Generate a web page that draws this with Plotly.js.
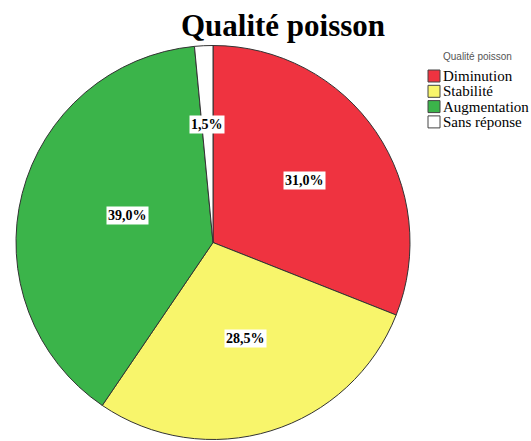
<!DOCTYPE html>
<html><head><meta charset="utf-8">
<script src="https://cdn.plot.ly/plotly-3.0.1.min.js"></script>
<style>body{margin:0;padding:0;background:#fff;overflow:hidden}#chart{width:531px;height:441px}</style>
</head><body><div id="chart"></div>
<script>
const categories = ["Diminution", "Stabilité", "Augmentation", "Sans réponse"];
const values = [31.0, 28.5, 39.0, 1.5];
const labelsText = ["31,0%", "28,5%", "39,0%", "1,5%"];
const colors = ["#EF3340", "#F8F56B", "#3BB44A", "#FFFFFF"];
const chartTitle = "Qualité poisson";
const legendTitle = "Qualité poisson";

const W = 531, H = 441;
const dom = {x0: 16, x1: 410, y0: 45, y1: 440};
const cx = (dom.x0 + dom.x1) / 2, cy = (dom.y0 + dom.y1) / 2;
const R = Math.min(dom.x1 - dom.x0, dom.y1 - dom.y0) / 2;
const total = values.reduce((a, b) => a + b, 0);

const annotations = [];
const shapes = [];
let cum = 0;
values.forEach((v, i) => {
  const mid = (cum + v / 2) / total * 2 * Math.PI;
  cum += v;
  const rf = v / total < 0.05 ? 0.65 : 0.56;
  const px = cx + Math.sin(mid) * R * rf;
  const py = cy - Math.cos(mid) * R * rf;
  annotations.push({
    x: px / W, y: 1 - py / H, xref: "paper", yref: "paper",
    text: "<b>" + labelsText[i] + "</b>", showarrow: false,
    font: {family: "Liberation Serif", size: 14, color: "#000"},
    bgcolor: "#FFFFFF", borderpad: 1
  });
});

// legend (drawn manually to match compact layout)
const lg = {x: 428, y: 70, box: 12, step: 15.3};
annotations.push({
  x: 477 / W, y: 1 - 56 / H, xref: "paper", yref: "paper", showarrow: false,
  text: legendTitle, font: {family: "Liberation Sans", size: 10, color: "#555"},
  xanchor: "center", yanchor: "middle"
});
categories.forEach((c, i) => {
  const top = lg.y + i * lg.step;
  shapes.push({
    type: "rect", xref: "paper", yref: "paper",
    x0: lg.x / W, x1: (lg.x + lg.box) / W,
    y0: 1 - top / H, y1: 1 - (top + lg.box) / H,
    fillcolor: colors[i], line: {color: "#444", width: 1}
  });
  annotations.push({
    x: (lg.x + lg.box + 1) / W, y: 1 - (top + lg.box / 2) / H,
    xref: "paper", yref: "paper", showarrow: false, xanchor: "left", yanchor: "middle",
    text: c, font: {family: "Liberation Serif", size: 15, color: "#000"}
  });
});

const trace = {
  type: "pie", labels: categories, values: values, sort: false,
  direction: "clockwise", rotation: 0,
  marker: {colors: colors, line: {color: "#333", width: 1}},
  textinfo: "none", hoverinfo: "label+percent",
  domain: {x: [dom.x0 / W, dom.x1 / W], y: [1 - dom.y1 / H, 1 - dom.y0 / H]}
};

const layout = {
  width: W, height: H, margin: {l: 0, r: 0, t: 0, b: 0, pad: 0, autoexpand: false},
  paper_bgcolor: "#fff",
  title: {text: "<b>" + chartTitle + "</b>", x: 283 / W, xanchor: "center", y: 1 - 25 / H, yanchor: "middle",
    font: {family: "Liberation Serif", size: 31, color: "#000"}},
  showlegend: false,
  annotations: annotations,
  shapes: shapes
};
Plotly.newPlot("chart", [trace], layout, {displayModeBar: false, staticPlot: true});
</script></body></html>
